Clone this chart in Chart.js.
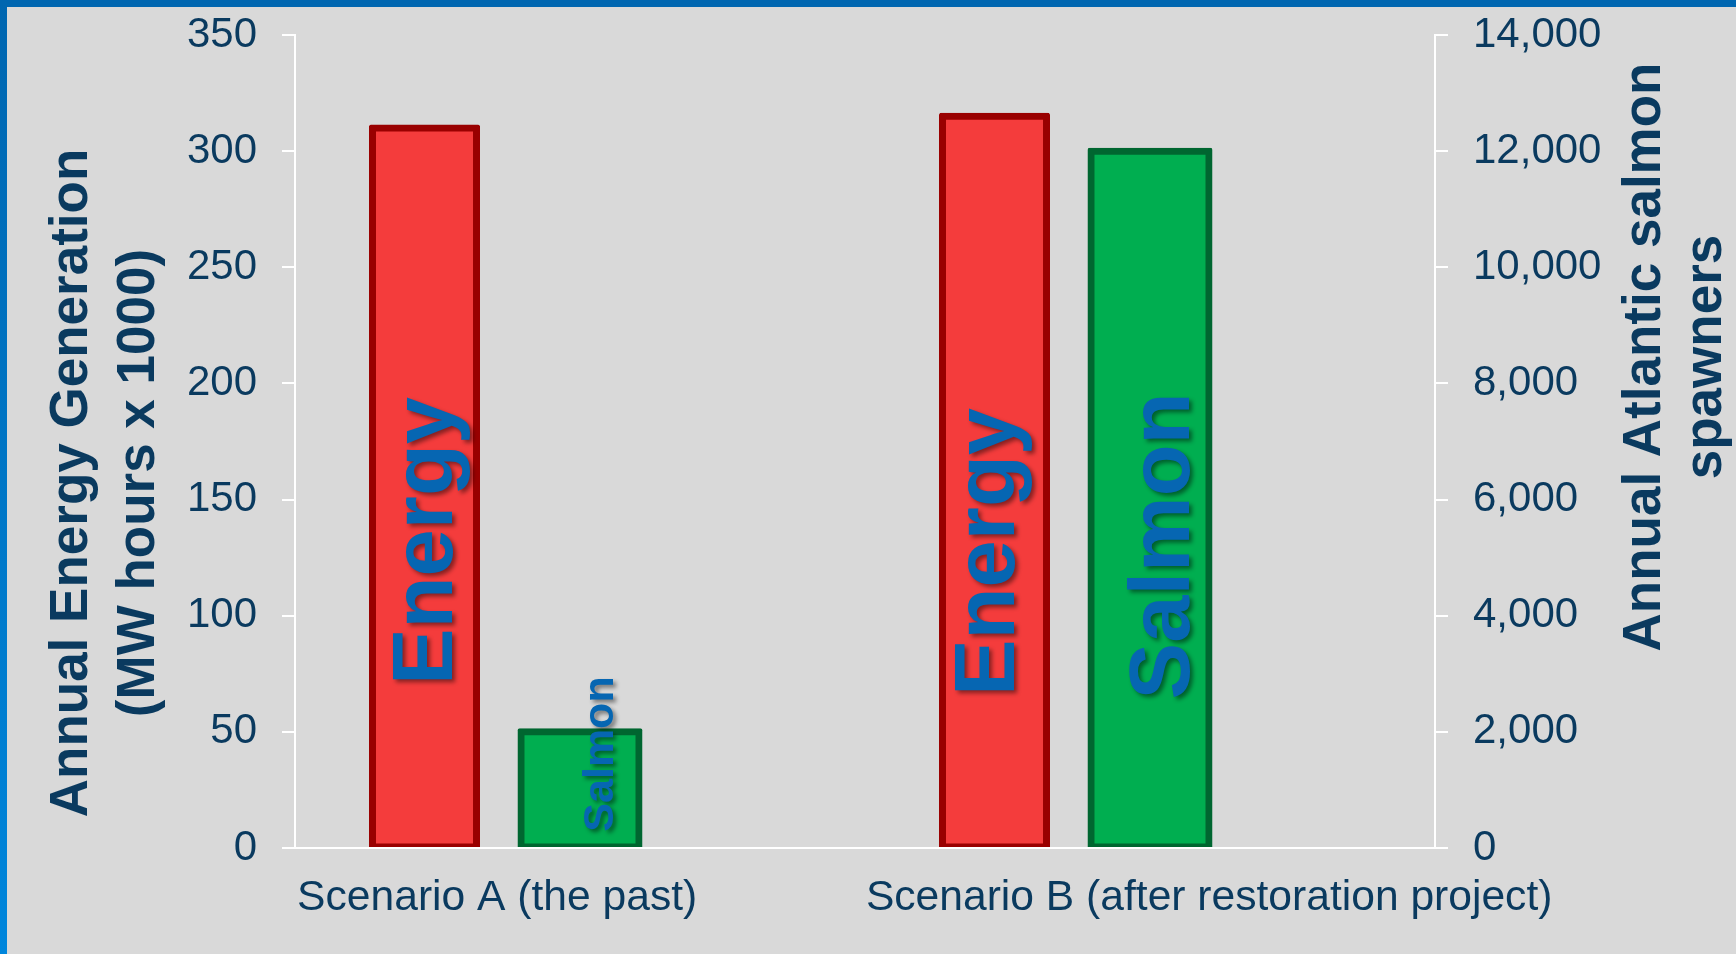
<!DOCTYPE html>
<html>
<head>
<meta charset="utf-8">
<script src="https://cdn.jsdelivr.net/npm/chart.js@4/dist/chart.umd.min.js"></script>
<style>
  html, body { margin: 0; padding: 0; background: #d9d9d9; overflow: hidden; }
  #wrap { position: relative; width: 1736px; height: 954px; }
  #wrap canvas { position: absolute; left: 0; top: 0; }
  #topbar { position: absolute; left: 0; top: 0; width: 1736px; height: 7px; background: #0066b0; }
  #leftbar { position: absolute; left: 0; top: 0; width: 7px; height: 954px; background: linear-gradient(#0066b0, #0086dc); }
</style>
</head>
<body>
<div id="wrap">
  <canvas id="chart" width="1736" height="954"></canvas>
  <div id="topbar"></div>
  <div id="leftbar"></div>
</div>
<script>
// data
const categories = ['Scenario A (the past)', 'Scenario B (after restoration project)'];
const energyValues = [310, 315];      // MW hours x 1000 (left axis)
const salmonValues = [2000, 12000];   // spawners (right axis)
const energyTicks = [0, 50, 100, 150, 200, 250, 300, 350];
const salmonTicks = [0, 2000, 4000, 6000, 8000, 10000, 12000, 14000];

const FONT = '"Liberation Sans", Arial, sans-serif';
const NAVY = '#0a3a5f';
const LABEL_BLUE = '#0666b2';

// text boxes sitting on the bars
const barLabels = [
  { text: 'Energy', dataset: 0, index: 0, size: 85, dx: 27, cy: 541 },
  { text: 'Salmon', dataset: 1, index: 0, size: 43, dx: 33, cy: 754 },
  { text: 'Energy', dataset: 0, index: 1, size: 85, dx: 19, cy: 552 },
  { text: 'Salmon', dataset: 1, index: 1, size: 85, dx: 39, cy: 546 }
];

const axisTitles = [
  { lines: ['Annual Energy Generation', '(MW hours x 1000)'], x: 87, gap: 67, cy: 483 },
  { lines: ['Annual Atlantic salmon', 'spawners'], x: 1660, gap: 61, cy: 357 }
];

const titlePlugin = {
  id: 'axisTitles',
  afterDraw(chart) {
    const ctx = chart.ctx;
    ctx.save();
    ctx.fillStyle = NAVY;
    ctx.font = 'bold 53px ' + FONT;
    ctx.textAlign = 'center';
    ctx.textBaseline = 'alphabetic';
    axisTitles.forEach(t => {
      t.lines.forEach((line, i) => {
        ctx.save();
        ctx.translate(t.x + i * t.gap, t.cy);
        ctx.rotate(-Math.PI / 2);
        ctx.fillText(line, 0, 0);
        ctx.restore();
      });
    });
    ctx.restore();
  }
};

const barLabelPlugin = {
  id: 'barLabels',
  afterDatasetsDraw(chart) {
    const ctx = chart.ctx;
    barLabels.forEach(l => {
      const bar = chart.getDatasetMeta(l.dataset).data[l.index];
      if (!bar) return;
      ctx.save();
      ctx.shadowColor = 'rgba(0, 0, 0, 0.45)';
      ctx.shadowBlur = 4;
      ctx.shadowOffsetX = 3;
      ctx.shadowOffsetY = 3;
      ctx.fillStyle = LABEL_BLUE;
      ctx.font = 'bold ' + l.size + 'px ' + FONT;
      ctx.textAlign = 'center';
      ctx.textBaseline = 'alphabetic';
      ctx.translate(bar.x + l.dx, l.cy);
      ctx.rotate(-Math.PI / 2);
      ctx.fillText(l.text, 0, 0);
      ctx.restore();
    });
  }
};

const tickFont = { family: FONT, size: 42 };
// three slots per category: energy | salmon (centred) | empty
const CAT_PCT = 0.8184;

// fixed axis box, no extra room for the end labels
function fixVertical(width) {
  return s => {
    s.width = width;
    s.paddingTop = 0;
    s.paddingBottom = 0;
  };
}

new Chart(document.getElementById('chart'), {
  type: 'bar',
  data: {
    labels: categories,
    datasets: [
      {
        label: 'Energy',
        data: energyValues,
        yAxisID: 'y',
        backgroundColor: '#f43c3c',
        borderColor: '#990000',
        borderWidth: 7,
        borderSkipped: false,
        inflateAmount: 3.5,
        borderRadius: 2,
        barPercentage: 0.669,
        categoryPercentage: CAT_PCT
      },
      {
        label: 'Salmon',
        data: salmonValues,
        yAxisID: 'y2',
        backgroundColor: '#00ae50',
        borderColor: '#006630',
        borderWidth: 7,
        borderSkipped: false,
        inflateAmount: 3.5,
        borderRadius: 2,
        barPercentage: 0.759,
        categoryPercentage: CAT_PCT
      },
      {
        label: '',
        data: [null, null],
        yAxisID: 'y',
        backgroundColor: 'rgba(0,0,0,0)',
        categoryPercentage: CAT_PCT
      }
    ]
  },
  options: {
    responsive: false,
    animation: false,
    layout: { padding: { top: 35, left: 0, right: 0, bottom: 0 } },
    plugins: {
      legend: { display: false },
      tooltip: { enabled: false }
    },
    scales: {
      x: {
        type: 'category',
        offset: true,
        grid: { display: false, drawTicks: false },
        border: { display: true, color: '#ffffff', width: 2, z: 1 },
        ticks: {
          color: NAVY,
          font: { family: FONT, size: 42.6 },
          padding: 25,
          maxRotation: 0,
          minRotation: 0,
          autoSkip: false,
          // labels are not centred on the categories in the original
          callback: (v, i) => i === 0 ? categories[0] + ' '.repeat(14) : ' '.repeat(10) + categories[1]
        },
        afterFit: s => { s.height = 106; }
      },
      y: {
        position: 'left',
        min: 0,
        max: 350,
        grid: { drawOnChartArea: false, color: '#ffffff', lineWidth: 2, tickLength: 13 },
        border: { color: '#ffffff', width: 2 },
        ticks: { color: NAVY, font: tickFont, padding: 25 },
        afterBuildTicks: s => { s.ticks = energyTicks.map(v => ({ value: v })); },
        afterFit: fixVertical(295)
      },
      y2: {
        position: 'right',
        min: 0,
        max: 14000,
        grid: { drawOnChartArea: false, color: '#ffffff', lineWidth: 2, tickLength: 13 },
        border: { color: '#ffffff', width: 2 },
        ticks: {
          color: NAVY,
          font: tickFont,
          padding: 25,
          callback: v => v.toLocaleString('en-US')
        },
        afterBuildTicks: s => { s.ticks = salmonTicks.map(v => ({ value: v })); },
        afterFit: fixVertical(301)
      }
    }
  },
  plugins: [barLabelPlugin, titlePlugin]
});
</script>
</body>
</html>
